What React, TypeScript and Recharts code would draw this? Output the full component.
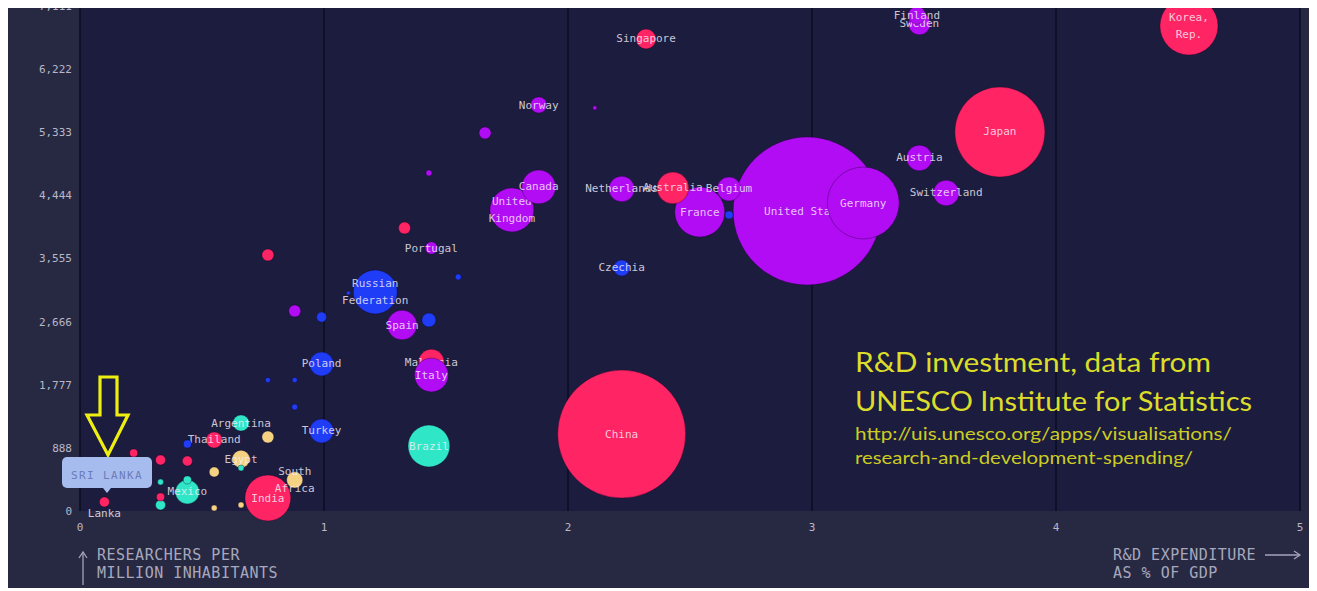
import React from 'react';
import { ScatterChart, Scatter, XAxis, YAxis, ZAxis, CartesianGrid } from 'recharts';

// ---- data ----
const countries: string[] = [
  'United States', 'Germany', 'China', 'Japan', 'Korea,\nRep.', 'France', 'Australia', 'Belgium',
  'Netherlands', 'United\nKingdom', 'Canada', 'Russian\nFederation', 'Brazil', 'India', 'Malaysia', 'Italy',
  'Spain', 'Austria', 'Switzerland', 'Sweden', 'Finland', 'Singapore', 'Norway', 'Czechia',
  'Portugal', 'Poland', 'Turkey', 'Argentina', 'Thailand', 'Egypt', 'South\nAfrica', 'Mexico', '\nLanka',
  '', '', '', '', '', '', '', '', '', '', '', '', '', '', '', '', '', '', '', '', '', '', '', '', '', '', '',
];
const rdExpenditurePct: number[] = [
  2.98, 3.21, 2.22, 3.77, 4.545, 2.54, 2.43, 2.66,
  2.22, 1.77, 1.88, 1.21, 1.43, 0.77, 1.44, 1.44,
  1.32, 3.44, 3.55, 3.44, 3.43, 2.32, 1.88, 2.22,
  1.44, 0.99, 0.99, 0.66, 0.55, 0.66, 0.88, 0.44, 0.1,
  1.66, 2.11, 1.43, 1.33, 0.77, 1.55, 2.66, 1.43, 0.88, 0.99, 1.1, 0.77, 0.88, 0.88,
  0.77, 0.44, 0.55, 0.22, 0.33, 0.44, 0.44, 0.33, 0.33, 0.33, 0.55, 0.66, 0.66,
];
const researchersPerMillion: number[] = [
  4224, 4337, 1084, 5337, 6830, 4210, 4549, 4535,
  4535, 4239, 4563, 3084, 915, 183, 2098, 1915,
  2619, 4971, 4478, 6860, 6980, 6647, 5717, 3422,
  3703, 2070, 1127, 1239, 1000, 732, 437, 268, 127,
  5324, 5676, 4760, 3986, 3606, 3296, 4169, 2690, 2817, 2730, 3070, 1845, 1845, 1465,
  1042, 944, 549, 817, 718, 704, 437, 85, 197, 408, 42, 85, 606,
];
const rdSpendingBn: number[] = [
  500, 118, 374, 185, 77, 57, 23, 13,
  15, 44, 26, 44, 40, 48, 15, 26,
  20, 15, 15, 11, 7, 9, 6, 6,
  3.5, 13, 13, 6, 6, 7, 6, 13, 2.3,
  3.3, 0.4, 0.8, 3.3, 3.3, 0.8, 1.5, 4.5, 3.3, 2.3, 0.4, 0.6, 0.6, 0.8,
  3.3, 1.5, 2.3, 1.5, 2.3, 2.3, 1.5, 2.3, 1.5, 0.8, 0.8, 0.8, 0.8,
];
const regions: string[] = [
  'eu', 'eu', 'asia', 'asia', 'asia', 'eu', 'asia', 'eu',
  'eu', 'eu', 'eu', 'eeca', 'latam', 'asia', 'asia', 'eu',
  'eu', 'eu', 'eu', 'eu', 'eu', 'asia', 'eu', 'eeca',
  'eu', 'eeca', 'eeca', 'latam', 'asia', 'africa', 'africa', 'latam', 'asia',
  'eu', 'eu', 'eu', 'asia', 'asia', 'eeca', 'eeca', 'eeca', 'eu', 'eeca', 'eeca', 'eeca', 'eeca', 'eeca',
  'africa', 'eeca', 'africa', 'asia', 'asia', 'asia', 'latam', 'latam', 'asia', 'latam', 'africa', 'africa', 'latam',
];
const regionColors: Record<string, string> = {
  eu: '#b20cf4',
  asia: '#ff2464',
  eeca: '#1f3cf6',
  latam: '#2fe6c6',
  africa: '#f4d282',
};
const xTicks = [0, 1, 2, 3, 4, 5];
const yTicks = [0, 888.9, 1777.8, 2666.7, 3555.6, 4444.4, 5333.3, 6222.2, 7111.1];
const yTickLabels = ['0', '888', '1,777', '2,666', '3,555', '4,444', '5,333', '6,222', '7,111'];

const data = countries.map((name, i) => ({
  name,
  x: rdExpenditurePct[i],
  y: researchersPerMillion[i],
  z: rdSpendingBn[i],
  region: regions[i],
}));

const MONO = '"DejaVu Sans Mono", monospace';

const Bubble = (props: any) => {
  const { cx, cy, width, payload } = props;
  const r = Math.max(width / 2, 1);
  const lines: string[] = payload.name ? payload.name.split('\n') : [];
  const lh = 17;
  return (
    <g>
      <circle cx={cx} cy={cy} r={r} fill={regionColors[payload.region]} stroke="rgba(20,0,40,0.35)" strokeWidth={1} />
      {lines.map((l, i) => (
        <text
          key={i}
          x={cx}
          y={cy + (i - (lines.length - 1) / 2) * lh + (payload.name === '\nLanka' ? 3 : 0)}
          textAnchor="middle"
          dominantBaseline="central"
          fontFamily={MONO}
          fontSize={11}
          fill="#f6eef8"
          fillOpacity={0.82}
        >
          {l}
        </text>
      ))}
    </g>
  );
};

const YTick = (props: any) => {
  const { x, y, index } = props;
  // top tick sits on the plot's upper edge, where the cropped reference cuts it
  const yy = index === yTicks.length - 1 ? 0 : y;
  return (
    <text x={x} y={yy} dy="0.355em" textAnchor="end" fill="#b8b8c8" fontSize={11} fontFamily={MONO}>
      {yTickLabels[index]}
    </text>
  );
};

const XTick = (props: any) => {
  const { x, y, payload } = props;
  return (
    <text x={x} y={y} dy="0.71em" textAnchor="middle" fill="#b8b8c8" fontSize={11} fontFamily={MONO}>
      {payload.value}
    </text>
  );
};

export default function App() {
  const W = 1305;
  const H = 582;
  return (
    <div style={{ position: 'relative', width: W, height: H, marginLeft: -1, marginTop: -2, background: '#272943', overflow: 'hidden' }}>
      <ScatterChart width={W} height={H} margin={{ top: 0, right: 12, bottom: 47, left: 0 }}>
        <CartesianGrid horizontal={false} vertical stroke="#0b0c22" strokeWidth={1.5} fill="#1b1c3e" />
        <XAxis
          type="number"
          dataKey="x"
          domain={[0, 5]}
          ticks={xTicks}
          axisLine={false}
          tickLine={false}
          height={30}
          tickMargin={6}
          tick={<XTick />}
        />
        <YAxis
          type="number"
          dataKey="y"
          domain={[0, 7111.1]}
          ticks={yTicks}
          axisLine={false}
          tickLine={false}
          width={73}
          tick={<YTick />}
        />
        <ZAxis type="number" dataKey="z" domain={[0, 500]} range={[0, 17203]} />
        <Scatter data={data} shape={(p: any) => <Bubble {...p} />} isAnimationActive={false} />
      </ScatterChart>
      <svg width={W} height={H} style={{ position: 'absolute', left: 0, top: 0, pointerEvents: 'none' }}>
        {/* Sri Lanka callout */}
        <polygon
          points="93,371 110,371 110,409 121,409 101,449 80,409 93,409"
          fill="none"
          stroke="#eeee10"
          strokeWidth={3.2}
          strokeLinejoin="miter"
        />
        <rect x={55} y={451} width={90} height={31} rx={5} fill="#a6bbee" />
        <polygon points="96,482 100,487 104,482" fill="#a6bbee" />
        <text x={100} y={473} textAnchor="middle" fontFamily={MONO} fontSize={11} letterSpacing={1.4} fill="#6c7cb6">
          SRI LANKA
        </text>
        {/* source annotation */}
        <text x={848} y={366} fontFamily="Lato, 'Open Sans', sans-serif" fontSize={27} fill="#dcdc2a" textLength={356} lengthAdjust="spacingAndGlyphs">
          R&amp;D investment, data from
        </text>
        <text x={848} y={405} fontFamily="Lato, 'Open Sans', sans-serif" fontSize={27} fill="#dcdc2a" textLength={397} lengthAdjust="spacingAndGlyphs">
          UNESCO Institute for Statistics
        </text>
        <text x={848} y={434} fontFamily="Lato, 'Open Sans', sans-serif" fontSize={18} fill="#cccc22" textLength={377} lengthAdjust="spacingAndGlyphs">
          http://uis.unesco.org/apps/visualisations/
        </text>
        <text x={848} y={458} fontFamily="Lato, 'Open Sans', sans-serif" fontSize={18} fill="#cccc22" textLength={338} lengthAdjust="spacingAndGlyphs">
          research-and-development-spending/
        </text>
        {/* y axis title */}
        <line x1={76} y1={579} x2={76} y2={546} stroke="#a4a4b8" strokeWidth={1.3} />
        <polyline points="72,552 76,546 80,552" fill="none" stroke="#a4a4b8" strokeWidth={1.3} />
        <text x={90} y={554} fontFamily={MONO} fontSize={15} letterSpacing={0.5} fill="#a8a8bc">
          RESEARCHERS PER
        </text>
        <text x={90} y={572} fontFamily={MONO} fontSize={15} letterSpacing={0.5} fill="#a8a8bc">
          MILLION INHABITANTS
        </text>
        {/* x axis title */}
        <text x={1106} y={554} fontFamily={MONO} fontSize={15} letterSpacing={0.5} fill="#a8a8bc">
          R&amp;D EXPENDITURE
        </text>
        <text x={1106} y={572} fontFamily={MONO} fontSize={15} letterSpacing={0.5} fill="#a8a8bc">
          AS % OF GDP
        </text>
        <line x1={1258} y1={549} x2={1293} y2={549} stroke="#a4a4b8" strokeWidth={1.3} />
        <polyline points="1287,545 1293,549 1287,553" fill="none" stroke="#a4a4b8" strokeWidth={1.3} />
      </svg>
    </div>
  );
}
